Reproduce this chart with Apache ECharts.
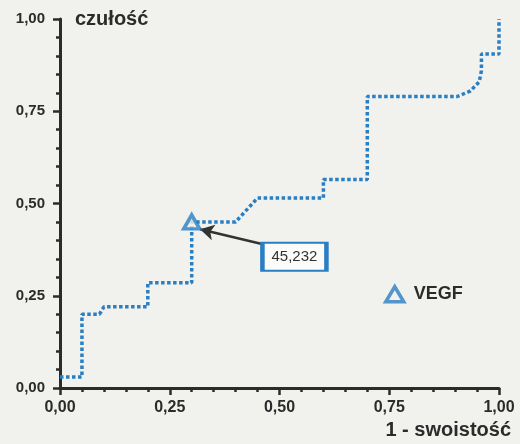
<!DOCTYPE html>
<html>
<head>
<meta charset="utf-8">
<script src="https://cdn.jsdelivr.net/npm/echarts@6/dist/echarts.min.js"></script>
<style>
  html, body { margin: 0; padding: 0; background: #f1f1ee; }
  #roc { width: 520px; height: 444px; }
</style>
</head>
<body>
<div id="roc"></div>
<script>
// ROC curve
var fprValues = [0, 0.05, 0.05, 0.09, 0.10, 0.20, 0.20, 0.30, 0.30, 0.40, 0.45, 0.60, 0.60, 0.70, 0.70, 0.905, 0.935, 0.955, 0.96, 0.96, 1.0, 1.0];
var sensValues = [0.03, 0.03, 0.20, 0.20, 0.22, 0.22, 0.285, 0.285, 0.45, 0.45, 0.515, 0.515, 0.565, 0.565, 0.79, 0.79, 0.805, 0.83, 0.86, 0.905, 0.905, 1.0];
// cut-off point and its label
var cutPoint = [0.30, 0.45];
var cutLabel = '45,232';
var tickLabels = ['0,00', '0,25', '0,50', '0,75', '1,00'];

var blue = '#2a7ec2';
var ink = '#2b2b2b';

var dom = document.getElementById('roc');
var myChart = echarts.init(dom, null, { renderer: 'canvas' });

var rocData = fprValues.map(function (x, i) { return [x, sensValues[i]]; });

function tickFmt(v) {
  return tickLabels[Math.round(v / 0.25)];
}

var axisCommon = {
  type: 'value',
  min: 0,
  max: 1,
  interval: 0.25,
  splitLine: { show: false },
  axisLine: { lineStyle: { color: ink, width: 3 } },
  axisTick: { length: 7, lineStyle: { color: ink, width: 2.5 } },
  minorTick: { show: true, splitNumber: 5, length: 4, lineStyle: { color: ink, width: 2.5 } }
};

var option = {
  backgroundColor: '#f1f1ee',
  animation: false,
  textStyle: { fontFamily: 'Liberation Sans, Arial, sans-serif' },
  grid: { left: 60, right: 21, top: 19, bottom: 56 },
  legend: {
    data: ['VEGF'],
    left: 379,
    top: 280,
    icon: 'triangle',
    itemWidth: 18,
    itemHeight: 15,
    itemStyle: { borderWidth: 3.5 },
    textStyle: { color: ink, fontSize: 18, fontWeight: 'bold', padding: [0, 0, 0, 5] }
  },
  xAxis: Object.assign({}, axisCommon, {
    name: '1 - swoistość',
    nameLocation: 'end',
    nameGap: 12,
    nameTextStyle: { color: ink, fontSize: 20, fontWeight: 'bold', align: 'right', verticalAlign: 'top', padding: [32, 0, 0, 0] },
    axisLabel: { color: ink, fontSize: 16, fontWeight: 'bold', margin: 12, formatter: tickFmt }
  }),
  yAxis: Object.assign({}, axisCommon, {
    name: 'czułość',
    nameLocation: 'end',
    nameGap: 0,
    nameTextStyle: { color: ink, fontSize: 20, fontWeight: 'bold', align: 'left', verticalAlign: 'middle', padding: [0, 0, 0, 15] },
    axisLabel: { color: ink, fontSize: 15, fontWeight: 'bold', margin: 15, formatter: tickFmt }
  }),
  series: [
    {
      name: 'ROC',
      type: 'line',
      data: rocData,
      showSymbol: false,
      lineStyle: { color: blue, width: 3.5, type: [3.5, 2.5], cap: 'butt' },
      z: 2
    },
    {
      name: 'VEGF',
      type: 'scatter',
      data: [cutPoint],
      symbol: 'triangle',
      symbolSize: [16, 14],
      itemStyle: { color: '#f1f1ee', borderColor: blue, borderWidth: 3.5 },
      z: 5,
      markLine: {
        silent: true,
        symbol: ['none', 'arrow'],
        symbolSize: [12, 14],
        label: { show: false },
        lineStyle: { color: '#333', width: 2.5, type: 'solid' },
        data: [[{ coord: [0.46, 0.39] }, { coord: [0.319, 0.43] }]]
      },
      markPoint: {
        silent: true,
        symbol: 'rect',
        symbolSize: [64, 28],
        itemStyle: { color: '#fbfbfa', borderColor: blue, borderWidth: 3 },
        label: { show: true, position: 'inside', color: '#333', fontSize: 15, formatter: cutLabel },
        data: [{ coord: [0.534, 0.356] }]
      }
    }
  ]
};

if (option && typeof option === 'object') {
  myChart.setOption(option);
}

window.addEventListener('resize', myChart.resize);
</script>
</body>
</html>
